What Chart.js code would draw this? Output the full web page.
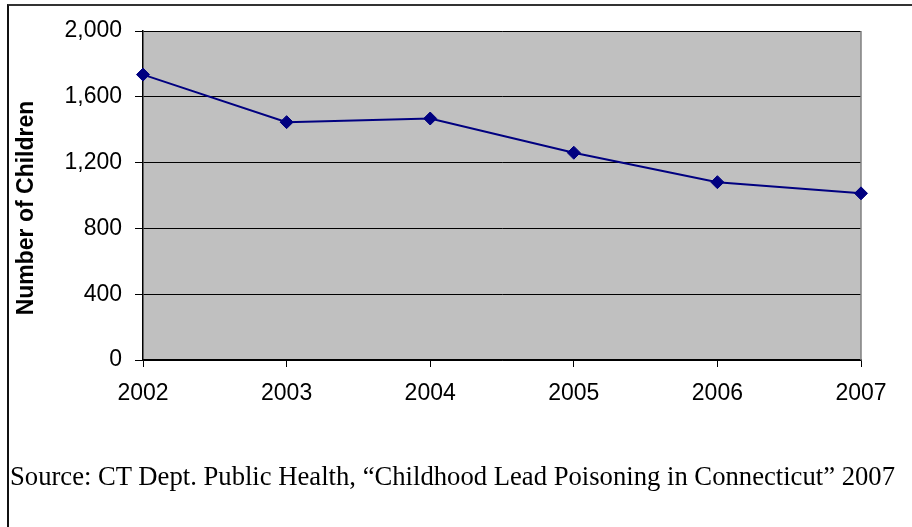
<!DOCTYPE html>
<html>
<head>
<meta charset="utf-8">
<script src="https://cdn.jsdelivr.net/npm/chart.js@4/dist/chart.umd.min.js"></script>
<style>
  html, body { margin: 0; padding: 0; background: #fff; }
  #wrap { position: relative; width: 912px; height: 527px; overflow: hidden; }
  #frame { position: absolute; left: 7px; top: 4px; right: -4px; bottom: -4px;
    border-left: 2px solid #111; border-top: 2px solid #333; }
  #chart { position: absolute; left: 0; top: 0; }
  #source { position: absolute; left: 10px; top: 461px; white-space: nowrap;
    font-family: "Liberation Serif", "Times New Roman", serif; font-size: 27px;
    color: #000; transform-origin: 0 0; }
</style>
</head>
<body>
<div id="wrap">
  <div id="frame"></div>
  <canvas id="chart" width="912" height="527"></canvas>
  <div id="source">Source: CT Dept. Public Health, “Childhood Lead Poisoning in Connecticut” 2007</div>
</div>
<script>
const years = ['2002', '2003', '2004', '2005', '2006', '2007'];
const children = [1735, 1446, 1468, 1260, 1081, 1013];
const yTicks = [0, 400, 800, 1200, 1600, 2000];
const yTitle = 'Number of Children';

// stretch the source line to the width it has in the picture
const src = document.getElementById('source');
const srcW = src.getBoundingClientRect().width;
src.style.transform = 'scaleX(' + (885 / srcW) + ')';

const plotBg = {
  id: 'plotBg',
  beforeDraw(chart) {
    const { ctx, chartArea: a } = chart;
    ctx.save();
    ctx.fillStyle = '#c0c0c0';
    ctx.fillRect(a.left, a.top, a.right - a.left, a.bottom - a.top);
    ctx.restore();
  },
  beforeDatasetsDraw(chart) {
    const { ctx, chartArea: a } = chart;
    ctx.save();
    ctx.strokeStyle = '#808080';
    ctx.lineWidth = 1.5;
    ctx.beginPath();
    ctx.moveTo(a.right, a.top);
    ctx.lineTo(a.right, a.bottom);
    ctx.stroke();
    ctx.restore();
  },
  afterDraw(chart) {
    // rotated y title, sits a little below the middle of the plot
    const { ctx } = chart;
    ctx.save();
    ctx.translate(33, 208);
    ctx.rotate(-Math.PI / 2);
    ctx.fillStyle = '#000';
    ctx.font = 'bold 23px "Liberation Sans", Arial, sans-serif';
    ctx.textAlign = 'center';
    ctx.textBaseline = 'alphabetic';
    ctx.fillText(yTitle, 0, 0);
    ctx.restore();
  }
};

const tickFont = { family: '"Liberation Sans", Arial, sans-serif', size: 23 };

new Chart(document.getElementById('chart'), {
  type: 'line',
  data: {
    labels: years,
    datasets: [{
      data: children,
      borderColor: '#000080',
      backgroundColor: '#000080',
      borderWidth: 2,
      tension: 0,
      pointStyle: 'rectRot',
      pointRadius: 6.5,
      pointBorderWidth: 1,
      pointBackgroundColor: '#000080',
      pointBorderColor: '#000080'
    }]
  },
  options: {
    responsive: false,
    animation: false,
    devicePixelRatio: 1,
    layout: { padding: { top: 31, right: 51, left: 0, bottom: 0 } },
    plugins: { legend: { display: false }, tooltip: { enabled: false } },
    scales: {
      x: {
        offset: false,
        grid: { drawOnChartArea: false, drawTicks: true, tickLength: 7, color: '#000', lineWidth: 1 },
        border: { color: '#000', width: 1.5 },
        ticks: { color: '#000', font: tickFont, padding: 13, maxRotation: 0, autoSkip: false },
        afterFit(scale) { scale.height = 167; }
      },
      y: {
        min: 0,
        max: 2000,
        afterBuildTicks(scale) { scale.ticks = yTicks.map(v => ({ value: v })); },
        grid: { color: '#000', lineWidth: 1, tickLength: 8 },
        border: { color: '#000', width: 1.5 },
        ticks: {
          color: '#000', font: tickFont, padding: 13,
          callback: v => v.toLocaleString('en-US')
        },
        afterFit(scale) { scale.width = 143; }
      }
    }
  },
  plugins: [plotBg]
});
</script>
</body>
</html>
